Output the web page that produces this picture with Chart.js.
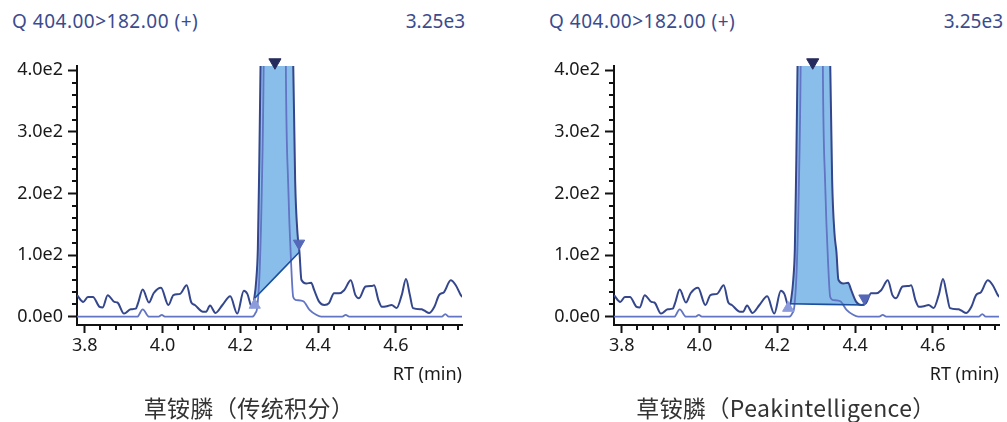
<!DOCTYPE html>
<html>
<head>
<meta charset="utf-8">
<script src="https://cdn.jsdelivr.net/npm/chart.js@4.4.1/dist/chart.umd.min.js"></script>
<style>
  html, body { margin:0; padding:0; background:#fff; }
  body { width:1007px; height:422px; overflow:hidden; position:relative; font-family:"Noto Sans", sans-serif; }
  .panel { position:absolute; top:0; width:470px; height:422px; }
  .hdr { position:absolute; top:9px; font-size:19px; line-height:24px; color:#3b4b8e; white-space:nowrap; }
  .plot { position:absolute; left:0; top:0; width:470px; height:395px; }
  .caption { position:absolute; left:0; width:498px; top:393px; text-align:center;
             font-family:"Noto Sans CJK SC", sans-serif; font-size:23px; line-height:28px;
             color:#333; letter-spacing:0.4px; }
</style>
</head>
<body>
<div class="panel" style="left:0">
  <div class="hdr" style="left:12px; letter-spacing:0.5px">Q 404.00&gt;182.00 (+)</div>
  <div class="hdr" style="right:5px">3.25e3</div>
  <div class="plot"><canvas id="chartA"></canvas></div>
  <div class="caption">草铵膦（传统积分）</div>
</div>
<div class="panel" style="left:537px">
  <div class="hdr" style="left:12px; letter-spacing:0.5px">Q 404.00&gt;182.00 (+)</div>
  <div class="hdr" style="right:4px">3.25e3</div>
  <div class="plot"><canvas id="chartB"></canvas></div>
  <div class="caption">草铵膦（Peakintelligence）</div>
</div>
<script>
// ── DATA ───────────────────────────────────────────────
// quantifier trace (dark) : retention time (min) / intensity
const rtDark  = [3.780, 3.796, 3.808, 3.821, 3.838, 3.846, 3.859, 3.876, 3.884, 3.901,
                 3.918, 3.931, 3.937, 3.949, 3.965, 3.977, 3.996, 4.015, 4.028, 4.045,
                 4.062, 4.074, 4.083, 4.104, 4.112, 4.122, 4.136, 4.154, 4.174, 4.192,
                 4.209, 4.218, 4.230, 4.236, 4.241, 4.245, 4.248, 4.252, 4.268, 4.290,
                 4.314, 4.336, 4.341, 4.347, 4.352, 4.357, 4.370, 4.382, 4.390, 4.403,
                 4.416, 4.428, 4.441, 4.454, 4.467, 4.484, 4.496, 4.505, 4.522, 4.539,
                 4.544, 4.555, 4.564, 4.577, 4.589, 4.602, 4.615, 4.626, 4.636, 4.644,
                 4.666, 4.673, 4.686, 4.699, 4.711, 4.724, 4.741, 4.754, 4.767, 4.775];
const intDark = [35, 24, 32, 32, 16, 15, 35, 24, 23, 5,
                 12, 13, 22, 44, 23, 38, 47, 19, 35, 37,
                 51, 23, 19, 8, 8, 18, 6, 19, 33, 5,
                 42, 37, 15, 30, 60, 110, 220, 410, 1800, 3250,
                 1800, 410, 220, 135, 105, 60, 54, 55, 43, 24,
                 19, 22, 38, 38, 43, 59, 35, 30, 49, 50,
                 51, 27, 16, 17, 19, 14, 35, 61, 35, 14,
                 12, 10, 6, 16, 35, 40, 59, 51, 35, 30];

// qualifier trace (light)
const rtLight  = [3.780, 3.935, 3.949, 3.965, 3.990, 3.998, 4.006, 4.230, 4.238, 4.244,
                  4.250, 4.255, 4.260, 4.275, 4.290, 4.305, 4.317, 4.323, 4.331, 4.336,
                  4.344, 4.362, 4.378, 4.395, 4.408, 4.462, 4.471, 4.480, 4.718, 4.727,
                  4.736, 4.775];
const intLight = [0, 0, 12, 0, 0, 3, 0, 0, 5, 18,
                  80, 200, 410, 2000, 2900, 2000, 410, 216, 81, 32,
                  27, 25, 11, 3, 0, 0, 3, 0, 0, 4,
                  0, 0];

const xTickValues = [3.8, 4.0, 4.2, 4.4, 4.6];
const xTickLabels = ['3.8', '4.0', '4.2', '4.4', '4.6'];
const yTickValues = [0, 100, 200, 300, 400];
const yTickLabels = ['0.0e0', '1.0e2', '2.0e2', '3.0e2', '4.0e2'];

// integration A (traditional): baseline rt / intensity, markers
const baseRtA   = [4.237, 4.352];
const baseIntA  = [30, 105];
const startMarkA = [4.237, 19];
const endMarkA   = [4.351, 119];
const apexMarkA  = [4.289, 413];

// integration B (Peakintelligence)
const baseRtB   = [4.228, 4.424];
const baseIntB  = [21, 19];
const startMarkB = [4.228, 14];
const endMarkB   = [4.424, 30];
const apexMarkB  = [4.291, 413];

// ── STYLE ──────────────────────────────────────────────
const C_DARK  = '#34468c';
const C_LIGHT = '#6274c4';
const C_FILL  = 'rgba(128,184,232,0.92)';
const C_BASE  = '#1d4f9e';
const C_AXIS  = '#111';

Chart.defaults.font.family = '"Noto Sans", sans-serif';
Chart.defaults.font.size = 18;
Chart.defaults.color = '#1a1a1a';

// minor tick marks on both axes
const minorTicks = {
  id: 'minorTicks',
  afterDraw(chart) {
    const { ctx, chartArea: a } = chart;
    const x = chart.scales.x, y = chart.scales.y;
    ctx.save();
    ctx.strokeStyle = C_AXIS;
    ctx.lineWidth = 2;
    ctx.beginPath();
    for (let v = 20; v <= y.max; v += 20) {
      if (v % 100 === 0) continue;
      const py = Math.round(y.getPixelForValue(v));
      ctx.moveTo(a.left - 5, py);
      ctx.lineTo(a.left, py);
    }
    for (let k = 0; ; k++) {
      const t = (380 + 4 * k) / 100;
      if (t > x.max) break;
      if (k % 5 === 0) continue;
      const px = Math.round(x.getPixelForValue(t));
      ctx.moveTo(px, a.bottom);
      ctx.lineTo(px, a.bottom + 5);
    }
    ctx.stroke();
    ctx.restore();
  }
};

function pts(xs, ys) {
  return xs.map((t, i) => ({ x: t, y: ys[i] }));
}

// closed area between the dark trace and the integration baseline
function peakShape(bRt, bInt) {
  const shape = [{ x: bRt[0], y: bInt[0] }];
  rtDark.forEach((t, i) => {
    if (t <= bRt[0] || t >= bRt[1]) return;
    const base = bInt[0] + (bInt[1] - bInt[0]) * (t - bRt[0]) / (bRt[1] - bRt[0]);
    if (intDark[i] < base) return;
    shape.push({ x: t, y: intDark[i] });
  });
  shape.push({ x: bRt[1], y: bInt[1] });
  return shape;
}

function marker(p, color, rot, r) {
  return {
    data: [{ x: p[0], y: p[1] }],
    showLine: false, clip: false, order: 0,
    pointStyle: 'triangle', rotation: rot,
    pointRadius: r, pointBackgroundColor: color, pointBorderColor: color, pointBorderWidth: 1
  };
}

function makeChart(id, bRt, bInt, startM, endM, apexM) {
  new Chart(document.getElementById(id), {
    type: 'line',
    data: {
      datasets: [
        { data: peakShape(bRt, bInt), fill: 'shape', backgroundColor: C_FILL,
          borderWidth: 0, pointRadius: 0, order: 4, cubicInterpolationMode: 'monotone' },
        { data: pts(rtLight, intLight), borderColor: C_LIGHT, borderWidth: 1.8,
          pointRadius: 0, fill: false, order: 3, cubicInterpolationMode: 'monotone' },
        { data: pts(rtDark, intDark), borderColor: C_DARK, borderWidth: 2,
          pointRadius: 0, fill: false, order: 2, cubicInterpolationMode: 'monotone' },
        { data: pts(bRt, bInt), borderColor: C_BASE, borderWidth: 1.6,
          pointRadius: 0, fill: false, order: 1 },
        marker(startM, '#8c9cdb', 0, 6.5),
        marker(endM, '#5467b8', 180, 6.5),
        marker(apexM, '#252a5c', 180, 7)
      ]
    },
    options: {
      responsive: true,
      maintainAspectRatio: false,
      animation: false,
      events: [],
      layout: { padding: { top: 66, right: 2, bottom: 0, left: 0 } },
      plugins: { legend: { display: false }, tooltip: { enabled: false } },
      elements: { line: { tension: 0.4 } },
      scales: {
        x: {
          type: 'linear', min: 3.78, max: 4.77,
          afterBuildTicks: s => { s.ticks = xTickValues.map(v => ({ value: v })); },
          afterFit: s => { s.height = 70; },
          ticks: { autoSkip: false, maxRotation: 0, padding: 2,
                   callback: v => xTickLabels[xTickValues.indexOf(v)] },
          grid: { drawOnChartArea: false, drawTicks: true, tickLength: 8,
                  tickColor: C_AXIS, tickWidth: 2 },
          border: { display: true, color: C_AXIS, width: 2 },
          title: { display: true, text: 'RT (min)', align: 'end',
                   padding: { top: 0, bottom: 9 }, font: { size: 18 } }
        },
        y: {
          type: 'linear', min: -13.5, max: 407,
          afterBuildTicks: s => { s.ticks = yTickValues.map(v => ({ value: v })); },
          afterFit: s => { s.width = 77; },
          ticks: { padding: 5, callback: v => yTickLabels[yTickValues.indexOf(v)] },
          grid: { drawOnChartArea: false, drawTicks: true, tickLength: 9,
                  tickColor: C_AXIS, tickWidth: 2 },
          border: { display: true, color: C_AXIS, width: 2 }
        }
      }
    },
    plugins: [minorTicks]
  });
}

makeChart('chartA', baseRtA, baseIntA, startMarkA, endMarkA, apexMarkA);
makeChart('chartB', baseRtB, baseIntB, startMarkB, endMarkB, apexMarkB);
</script>
</body>
</html>
